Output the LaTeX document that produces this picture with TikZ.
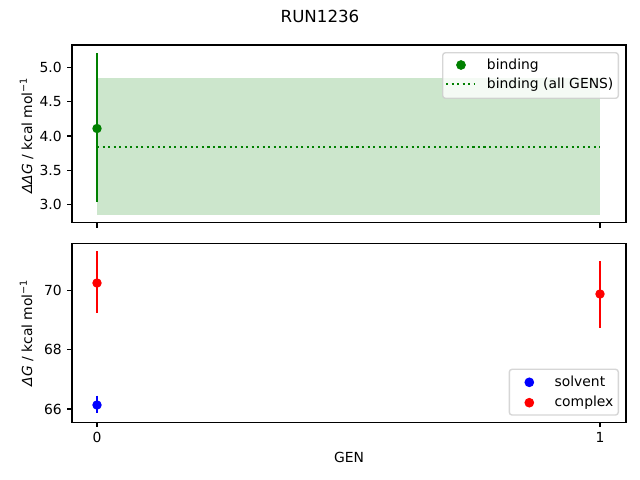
\documentclass[tikz,border=0pt]{standalone}
\usepackage{fontspec}
\setmainfont{DejaVu Sans}
\definecolor{mgreen}{HTML}{008000}
\definecolor{mfill}{HTML}{CCE6CC}
\definecolor{mred}{HTML}{FF0000}
\definecolor{mblue}{HTML}{0000FF}
\definecolor{legedge}{HTML}{CCCCCC}
\begin{document}
\begin{tikzpicture}[x=0.72pt,y=-0.72pt,
  spine/.style={line width=0.8pt, black},
  tickmark/.style={line width=0.8pt, black},
  lab/.style={inner sep=0pt, font=\fontsize{10}{12}\selectfont},
  errbar/.style={line width=1.5pt},
  dot/.style={circle, inner sep=0pt, minimum size=6.8pt},
  legdot/.style={circle, inner sep=0pt, minimum size=7pt},
  legbox/.style={draw=legedge, line width=1pt, fill=white, fill opacity=0.8, draw opacity=0.8, rounded corners=2pt},
  dotline/.style={mgreen, line width=1.5pt, dash pattern=on 1.5pt off 2.475pt},
]
\useasboundingbox[fill=white] (0,0) rectangle (640,480);

% title
\node[inner sep=0pt, font=\fontsize{12}{14}\selectfont] (title) at (320,16) {RUN1236};

% ---------------- top axes ----------------
\fill[mfill] (97,77.7) rectangle (600,215);
\coordinate (dl) at (97,147);
\coordinate (dr) at (600,147);
\draw[dotline] (dl) -- (dr);

\coordinate (b0t) at (97,53.3);
\coordinate (b0b) at (97,201.7);
\draw[errbar, mgreen] (b0t) -- (b0b);
\node[dot, fill=mgreen] (b0) at (97,128.5) {};

\draw[spine] (72,45) rectangle (626,222.7);

% y ticks top
\foreach \v/\y in {5.0/67.7, 4.5/101.85, 4.0/136, 3.5/170.15, 3.0/204.3} {
  \draw[tickmark] (72,\y) -- (67.14,\y);
  \node[lab, anchor=east] at (62,\y) {\v};
}
% x ticks top
\draw[tickmark] (97,222.7) -- (97,227.56);
\draw[tickmark] (600,222.7) -- (600,227.56);

\node[lab, rotate=90, anchor=base] (ylab1) at (32,135.5) {\textit{ΔΔG} / kcal mol\textsuperscript{−1}};

% legend top
\draw[legbox] (442.7,52.7) rectangle (618.3,98.3);
\node[legdot, fill=mgreen] (lg1m) at (461,65) {};
\node[lab, anchor=base west] (lg1) at (486.7,69) {binding};
\coordinate (lg2a) at (446,84);
\coordinate (lg2b) at (474,84);
\draw[dotline] (lg2a) -- (lg2b);
\node[lab, anchor=base west] (lg2) at (486.7,88.5) {binding (all GENS)};

% ---------------- bottom axes ----------------
\coordinate (r0t) at (97,251);
\coordinate (r0b) at (97,313.3);
\draw[errbar, mred] (r0t) -- (r0b);
\node[dot, fill=mred] (r0) at (97,283) {};

\coordinate (s0t) at (97,395.7);
\coordinate (s0b) at (97,413.3);
\draw[errbar, mblue] (s0t) -- (s0b);
\node[dot, fill=mblue] (s0) at (97,405) {};

\coordinate (r1t) at (600,261);
\coordinate (r1b) at (600,327.7);
\draw[errbar, mred] (r1t) -- (r1b);
\node[dot, fill=mred] (r1) at (600,294) {};

\draw[spine] (72,243.3) rectangle (626,422.3);

\foreach \v/\y in {70/290.3, 68/349.65, 66/409} {
  \draw[tickmark] (72,\y) -- (67.14,\y);
  \node[lab, anchor=east] at (62,\y) {\v};
}
\draw[tickmark] (97,422.3) -- (97,427.16);
\draw[tickmark] (600,422.3) -- (600,427.16);
\node[lab] (x0) at (97,437.6) {0};
\node[lab] (x1) at (600,437.6) {1};

\node[lab] (xlab) at (349,457.3) {GEN};

\node[lab, rotate=90, anchor=base] (ylab2) at (32,332.8) {\textit{ΔG} / kcal mol\textsuperscript{−1}};

% legend bottom
\draw[legbox] (509.3,369.3) rectangle (618.3,415);
\node[legdot, fill=mblue] (lsm) at (529.3,382.3) {};
\node[lab, anchor=base west] (ls) at (554.3,386.5) {solvent};
\node[legdot, fill=mred] (lcm) at (529.3,402.7) {};
\node[lab, anchor=base west] (lc) at (554.3,406.5) {complex};
\end{tikzpicture}
\end{document}
